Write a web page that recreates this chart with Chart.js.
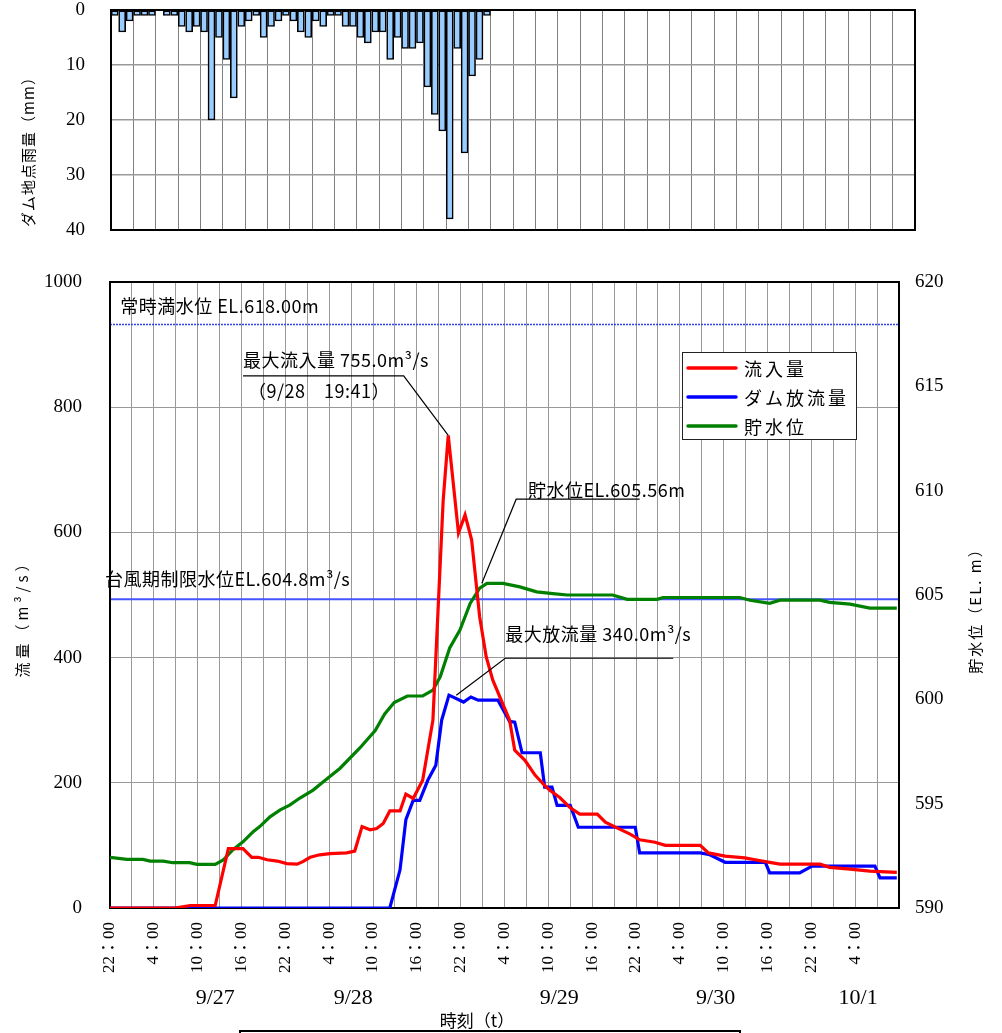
<!DOCTYPE html>
<html>
<head>
<meta charset="utf-8">
<script src="https://cdn.jsdelivr.net/npm/chart.js@4.4.1/dist/chart.umd.min.js"></script>
<style>
  html, body { margin: 0; padding: 0; background: #fff; }
  #wrap { position: relative; width: 1002px; height: 1033px; overflow: hidden; }
  canvas { position: absolute; left: 0; }
  #rainChart { top: 0; }
  #flowChart { top: 250px; }
</style>
</head>
<body>
<div id="wrap">
  <canvas id="rainChart" width="1002" height="240"></canvas>
  <canvas id="flowChart" width="1002" height="783"></canvas>
</div>
<script>
// hours counted from 9/26 22:00
const rainHourly = [1, 4, 2, 1, 1, 1, 0, 1, 1, 3, 4, 3, 4, 20, 5, 9, 16, 3, 2, 1, 5, 3, 2, 1, 2, 4,
  5, 2, 3, 1, 1, 3, 3, 5, 6, 4, 4, 9, 5, 7, 7, 6, 14, 19, 22, 38, 7, 26, 12, 9, 1];

// [hour, m3/s]
const inflow = [[0, 0], [8.9, 0], [11, 4], [14.4, 4], [16.2, 95], [18.2, 95], [19.4, 81], [20.3, 81],
  [21.5, 77], [22.9, 75], [24.2, 71], [25.6, 70], [26.4, 74], [27.4, 81], [28.7, 85], [30.1, 87],
  [32.4, 88], [33.5, 91], [34.5, 130], [35.6, 125], [36.5, 127], [37.4, 135], [38.3, 155], [39.7, 155],
  [40.5, 182], [41.5, 175], [42.8, 204], [44.2, 300], [45.6, 650], [46.3, 755], [47.7, 599], [48.6, 628],
  [49.5, 588], [50.6, 465], [51.5, 401], [52.4, 364], [54.7, 300], [55.4, 252], [56.8, 236], [58.2, 212],
  [59.5, 196], [60.2, 188], [61.6, 176], [63, 160], [64.3, 150], [66.7, 150], [67.8, 137], [69.4, 128],
  [71.2, 118], [72.5, 109], [74.6, 105], [76, 100], [80.8, 100], [81.9, 88], [84.2, 83], [86.9, 80],
  [88.3, 77], [90.3, 73], [91.7, 70], [97.2, 70], [98.5, 65], [101.3, 62], [104, 59], [107.7, 57]];

const outflow = [[0, 0], [38.3, 0], [39.7, 61], [40.5, 141], [41.5, 172], [42.4, 172], [43.5, 204],
  [44.6, 228], [45.4, 300], [46.4, 340], [48.4, 329], [49.4, 337], [50.4, 332], [53.1, 332], [54.7, 298],
  [55.4, 297], [56.4, 248], [58.9, 248], [59.5, 193], [60.5, 193], [61.2, 164], [63, 164], [64.1, 129],
  [71.9, 129], [72.5, 88], [80.8, 88], [82.1, 85], [84.2, 73], [89.7, 73], [90.3, 56], [94.4, 56],
  [96.1, 67], [104.7, 67], [105.4, 48], [107.7, 48]];

// [hour, EL.m]
const waterLevel = [[0, 592.43], [2.3, 592.33], [4.5, 592.33], [5.5, 592.25], [7.3, 592.25], [8.6, 592.17],
  [10.9, 592.17], [11.9, 592.09], [14.4, 592.09], [15.5, 592.3], [16.8, 592.78], [18.2, 593.17],
  [19.6, 593.66], [20.5, 593.9], [21.9, 594.37], [23.3, 594.7], [24.6, 594.93], [26, 595.27],
  [27.8, 595.65], [29.2, 596.05], [31.5, 596.7], [34.2, 597.67], [36.3, 598.5], [37.6, 599.3],
  [38.9, 599.85], [40.7, 600.16], [42.8, 600.16], [44.2, 600.44], [45.2, 601.08], [46.5, 602.46],
  [47.9, 603.32], [49.3, 604.6], [50.6, 605.33], [51.6, 605.56], [53.8, 605.56], [56.1, 605.39],
  [58.4, 605.15], [60.6, 605.07], [62.6, 605.0], [68.8, 605.0], [70.8, 604.79], [74.9, 604.79],
  [75.7, 604.88], [86.2, 604.88], [87.6, 604.75], [90.3, 604.6], [91.7, 604.75], [97.2, 604.75],
  [98.5, 604.65], [101.3, 604.56], [104, 604.37], [107.7, 604.37]];

const normalFullLevel = 618.0;
const floodSeasonLevel = 604.8;

const timeLabels = ['22：00', '4：00', '10：00', '16：00', '22：00', '4：00', '10：00', '16：00',
  '22：00', '4：00', '10：00', '16：00', '22：00', '4：00', '10：00', '16：00', '22：00', '4：00'];
const dateLabels = ['9/27', '9/28', '9/29', '9/30', '10/1'];
const dateHours = [14.4, 33.3, 61.5, 82.9, 102.4];

const seriesNames = ['流入量', 'ダム放流量', '貯水位'];
const seriesColors = ['#ff0000', '#0000ff', '#008000'];

const SERIF = '"Liberation Serif", "Noto Sans CJK JP", serif';
const SANS = '"Noto Sans CJK JP", sans-serif';
const HOURS = 108;

const toXY = pairs => pairs.map(([h, v]) => ({ x: h, y: v }));

// fixed-size scale boxes so the plot areas land where they should
const fixWidth = w => s => { s.width = w; s.paddingTop = 0; s.paddingBottom = 0; };
const fixHeight = h => s => { s.height = h; s.paddingLeft = 0; s.paddingRight = 0; };

function vText(ctx, s, cx, cy, font, spacing) {
  ctx.save();
  ctx.translate(cx, cy);
  ctx.rotate(-Math.PI / 2);
  ctx.font = font;
  ctx.letterSpacing = spacing || '0px';
  ctx.textAlign = 'center';
  ctx.textBaseline = 'middle';
  ctx.fillStyle = '#000';
  ctx.fillText(s, 0, 0);
  ctx.restore();
}

function frame(ctx, a) {
  ctx.save();
  ctx.strokeStyle = '#000';
  ctx.lineWidth = 2;
  ctx.strokeRect(a.left, a.top, a.right - a.left, a.bottom - a.top);
  ctx.restore();
}

// ---- rainfall (top) ----
const rainDecor = {
  id: 'rainDecor',
  afterDatasetsDraw(chart) {
    frame(chart.ctx, chart.chartArea);
  },
  afterDraw(chart) {
    vText(chart.ctx, 'ダム地点雨量（mm）', 28, 148, '15px ' + SANS, '1px');
  }
};

new Chart(document.getElementById('rainChart'), {
  type: 'bar',
  data: {
    datasets: [{
      data: rainHourly.map((v, i) => ({ x: i + 0.5, y: v })),
      backgroundColor: '#99ccff',
      borderColor: '#000',
      borderWidth: 1.6,
      borderSkipped: false,
      barThickness: 7
    }]
  },
  options: {
    responsive: false,
    animation: false,
    layout: { padding: { top: 10, right: 87, left: 0, bottom: 0 } },
    plugins: { legend: { display: false }, tooltip: { enabled: false } },
    scales: {
      x: {
        type: 'linear', min: 0, max: HOURS, offset: false,
        ticks: { stepSize: 3, display: false },
        grid: { color: '#808080', lineWidth: 1, drawTicks: false, offset: false },
        border: { display: false },
        afterFit: fixHeight(10)
      },
      y: {
        reverse: true, min: 0, max: 40,
        ticks: { stepSize: 10, padding: 26, color: '#000', font: { family: SERIF, size: 19 } },
        grid: { color: '#999', lineWidth: 1.5, drawTicks: false },
        border: { display: false },
        afterFit: fixWidth(111)
      }
    }
  },
  plugins: [rainDecor]
});

// ---- discharge / water level (bottom) ----
const notes = [
  { text: '常時満水位 EL.618.00m', h: 1.4, v: 951 },
  { text: '最大流入量 755.0m³/s', h: 18.2, v: 865, line: { v: 850, h1: 40.2, to: [46.3, 755, 'y'] } },
  { text: '（9/28　19:41）', h: 18.9, v: 815 },
  { text: '貯水位EL.605.56m', h: 57.2, v: 657, line: { v: 653, h0: 55.6, h1: 72.5, to: [50.9, 605.56, 'y2'] } },
  { text: '最大放流量 340.0m³/s', h: 54.1, v: 427, line: { v: 399, h1: 77.1, to: [47.4, 340, 'y'] } },
  { text: '台風期制限水位EL.604.8m³/s', h: -0.7, v: 514 }
];

const flowDecor = {
  id: 'flowDecor',
  beforeDatasetsDraw(chart) {
    const { ctx, chartArea: a, scales } = chart;
    ctx.save();
    let py = Math.round(scales.y2.getPixelForValue(normalFullLevel)) + 0.5;
    ctx.strokeStyle = '#3344ee';
    ctx.lineWidth = 1.5;
    ctx.setLineDash([2, 1]);
    ctx.beginPath(); ctx.moveTo(a.left, py); ctx.lineTo(a.right, py); ctx.stroke();
    py = scales.y2.getPixelForValue(floodSeasonLevel);
    ctx.strokeStyle = '#4455ff';
    ctx.lineWidth = 2;
    ctx.setLineDash([]);
    ctx.beginPath(); ctx.moveTo(a.left, py); ctx.lineTo(a.right, py); ctx.stroke();
    ctx.restore();
    frame(ctx, a);
  },
  afterDatasetsDraw(chart) {
    const { ctx, chartArea: a, scales: { x, y } } = chart;
    ctx.save();
    ctx.fillStyle = '#000';
    ctx.font = '18px ' + SANS;
    ctx.letterSpacing = '0.5px';
    ctx.textBaseline = 'alphabetic';
    for (const n of notes) {
      ctx.fillText(n.text, x.getPixelForValue(n.h), y.getPixelForValue(n.v));
      if (!n.line) continue;
      const L = n.line;
      const ly = y.getPixelForValue(L.v);
      const x0 = x.getPixelForValue(L.h0 !== undefined ? L.h0 : n.h);
      const x1 = x.getPixelForValue(L.h1);
      const tx = x.getPixelForValue(L.to[0]);
      const ty = chart.scales[L.to[2]].getPixelForValue(L.to[1]);
      ctx.strokeStyle = '#000';
      ctx.lineWidth = 1.2;
      ctx.beginPath();
      if (L.h0 !== undefined || tx <= x1) {
        ctx.moveTo(x1, ly); ctx.lineTo(x0, ly); ctx.lineTo(tx, ty);
      } else {
        ctx.moveTo(x0, ly); ctx.lineTo(x1, ly); ctx.lineTo(tx, ty);
      }
      ctx.stroke();
    }

    // legend box
    const bx = a.right - 217, by = a.top + 70, bw = 174, bh = 87;
    ctx.fillStyle = '#fff';
    ctx.fillRect(bx, by, bw, bh);
    ctx.strokeStyle = '#222';
    ctx.lineWidth = 1;
    ctx.strokeRect(bx + 0.5, by + 0.5, bw, bh);
    ctx.font = '18px ' + SANS;
    ctx.letterSpacing = '3px';
    ctx.textBaseline = 'middle';
    ctx.lineCap = 'round';
    seriesNames.forEach((name, i) => {
      const ly = by + 16 + i * 29;
      ctx.strokeStyle = seriesColors[i];
      ctx.lineWidth = 3.5;
      ctx.beginPath(); ctx.moveTo(bx + 6, ly); ctx.lineTo(bx + 54, ly); ctx.stroke();
      ctx.fillStyle = '#000';
      ctx.fillText(name, bx + 62, ly + 1);
    });
    ctx.restore();
  },
  afterDraw(chart) {
    const { ctx, scales: { x } } = chart;
    vText(ctx, '流量（m³/s）', 22, 365, '15px ' + SANS, '4px');
    vText(ctx, '貯水位（EL. m）', 975, 357, '15px ' + SANS, '2px');
    ctx.save();
    ctx.fillStyle = '#000';
    ctx.font = '22px ' + SERIF;
    ctx.textAlign = 'center';
    ctx.textBaseline = 'middle';
    dateLabels.forEach((d, i) => ctx.fillText(d, x.getPixelForValue(dateHours[i]), 748));
    ctx.font = '17px ' + SANS;
    ctx.fillText('時刻（t）', 477, 771);
    ctx.strokeStyle = '#000';
    ctx.lineWidth = 2;
    ctx.beginPath();
    ctx.moveTo(240, 790); ctx.lineTo(240, 781); ctx.lineTo(740, 781); ctx.lineTo(740, 790);
    ctx.stroke();
    ctx.restore();
  }
};

const lineStyle = { borderWidth: 3.2, pointRadius: 0, tension: 0, fill: false };

new Chart(document.getElementById('flowChart'), {
  type: 'line',
  data: {
    datasets: [
      { label: seriesNames[0], data: toXY(inflow), borderColor: seriesColors[0], yAxisID: 'y', ...lineStyle },
      { label: seriesNames[1], data: toXY(outflow), borderColor: seriesColors[1], yAxisID: 'y', ...lineStyle },
      { label: seriesNames[2], data: toXY(waterLevel), borderColor: seriesColors[2], yAxisID: 'y2', ...lineStyle }
    ]
  },
  options: {
    responsive: false,
    animation: false,
    layout: { padding: { top: 32, right: 0, left: 0, bottom: 0 } },
    plugins: { legend: { display: false }, tooltip: { enabled: false } },
    scales: {
      x: {
        type: 'linear', min: 0, max: HOURS,
        ticks: {
          stepSize: 3, autoSkip: false, maxRotation: 90, minRotation: 90, padding: 14,
          color: '#000', font: { family: SERIF, size: 17 },
          callback: v => (v % 6 === 0 && v < HOURS ? timeLabels[v / 6] : '')
        },
        grid: { color: '#999', lineWidth: 1, drawTicks: false },
        border: { display: false },
        afterFit: fixHeight(125)
      },
      y: {
        position: 'left', min: 0, max: 1000,
        ticks: { stepSize: 200, padding: 28, color: '#000', font: { family: SERIF, size: 19 }, callback: v => String(v) },
        grid: { color: '#999', lineWidth: 1, drawTicks: false },
        border: { display: false },
        afterFit: fixWidth(110)
      },
      y2: {
        position: 'right', min: 590, max: 620,
        ticks: { stepSize: 5, padding: 16, color: '#000', font: { family: SERIF, size: 19 }, callback: v => String(v) },
        grid: { drawOnChartArea: false, drawTicks: false },
        border: { display: false },
        afterFit: fixWidth(103)
      }
    }
  },
  plugins: [flowDecor]
});
</script>
</body>
</html>
